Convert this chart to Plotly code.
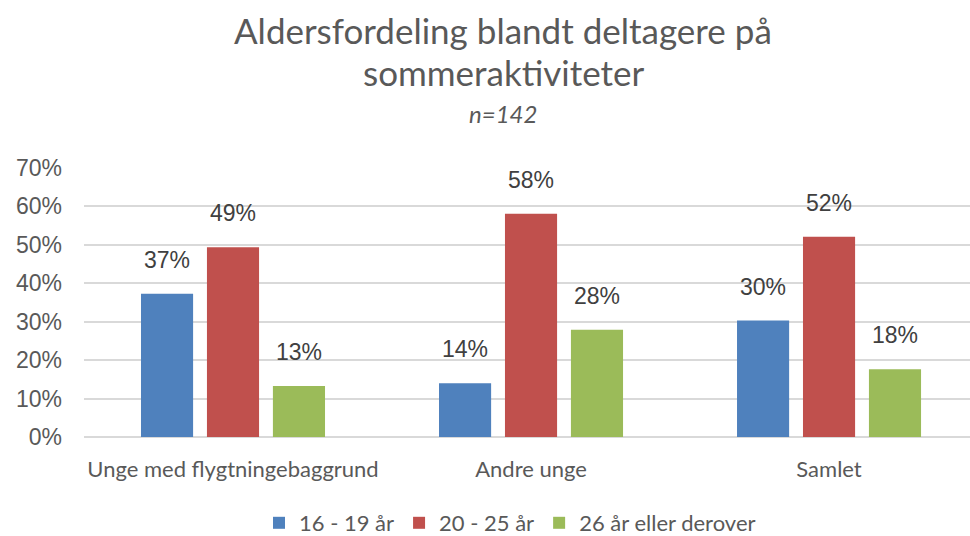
import plotly.graph_objects as go

categories = ["Unge med flygtningebaggrund", "Andre unge", "Samlet"]
series_names = ["16 - 19 år", "20 - 25 år", "26 år eller derover"]
v_16_19 = [0.373, 0.140, 0.303]
v_20_25 = [0.494, 0.581, 0.521]
v_26_plus = [0.133, 0.279, 0.176]
colors = ["#4F81BD", "#C0504D", "#9BBB59"]
y_ticks = [0, 0.1, 0.2, 0.3, 0.4, 0.5, 0.6, 0.7]
title_lines = ["Aldersfordeling blandt deltagere på", "sommeraktiviteter"]
subtitle = "n=142"

TXT = "#595959"
W, H = 970, 536
L, R, T, B = 84, 0, 168, 99
plot_h = H - T - B
plot_w = W - L - R
x_span = 2.973          # categories visible across plot width (last one slightly cut as in source)
bargap = 0.336
bargroupgap = 0.21
step_px = plot_w / x_span
slot_px = step_px * (1 - bargap) / 3

fig = go.Figure()
series = [v_16_19, v_20_25, v_26_plus]
for name, vals, col in zip(series_names, series, colors):
    fig.add_trace(go.Bar(
        name=name, x=categories, y=vals, marker=dict(color=col, line=dict(width=0)),
    ))

def py(px):
    return 1 + (T - px) / plot_h

cx = (503 - L) / plot_w
annos = [
    dict(text=title_lines[0], x=cx, y=py(30), font=dict(family="Lato, Noto Sans", size=35, color=TXT)),
    dict(text=title_lines[1], x=cx, y=py(72), font=dict(family="Lato, Noto Sans", size=35, color=TXT)),
    dict(text="<i>" + subtitle + "</i>", x=cx, y=py(113), font=dict(family="Lato, Noto Sans", size=24, color=TXT)),
]
for a in annos:
    a.update(xref="paper", yref="paper", xanchor="center", yanchor="middle", showarrow=False)

# data labels above bars
for si, vals in enumerate(series):
    for cat, v in zip(categories, vals):
        annos.append(dict(
            x=cat, y=v, xref="x", yref="y", text=f"{round(v * 100):.0f}%",
            xshift=(si - 1) * slot_px, yshift=34, xanchor="center", yanchor="middle",
            showarrow=False, font=dict(family="Liberation Sans, Arial", size=23, color="#404040"),
        ))

fig.update_layout(
    width=W, height=H,
    paper_bgcolor="white", plot_bgcolor="white",
    margin=dict(l=L, r=R, t=T, b=B, autoexpand=False),
    barmode="group", bargap=bargap, bargroupgap=bargroupgap,
    annotations=annos,
    showlegend=True,
    legend=dict(orientation="h", x=(510 - L) / plot_w, xanchor="center",
                yref="container", y=1 - 523 / H, yanchor="middle",
                font=dict(family="Lato, Noto Sans", size=22, color=TXT),
                itemwidth=30, tracegroupgap=0),
    xaxis=dict(showgrid=False, tickfont=dict(family="Lato, Noto Sans", size=22, color=TXT),
               range=[-0.5, -0.5 + x_span],
               showline=False, ticks="", ticklabelstandoff=17),
    yaxis=dict(range=[0, 0.7], tickvals=y_ticks, tickformat=".0%",
               tickfont=dict(family="Liberation Sans, Arial", size=23, color=TXT),
               showgrid=True, gridcolor="#D9D9D9", gridwidth=1.5, zeroline=True,
               zerolinecolor="#D9D9D9", zerolinewidth=1.5, ticks="", ticklabelstandoff=21),
)
fig.write_html("out.html", config={"displayModeBar": False},
               post_script="document.body.style.margin='0';document.body.style.overflow='hidden';")
